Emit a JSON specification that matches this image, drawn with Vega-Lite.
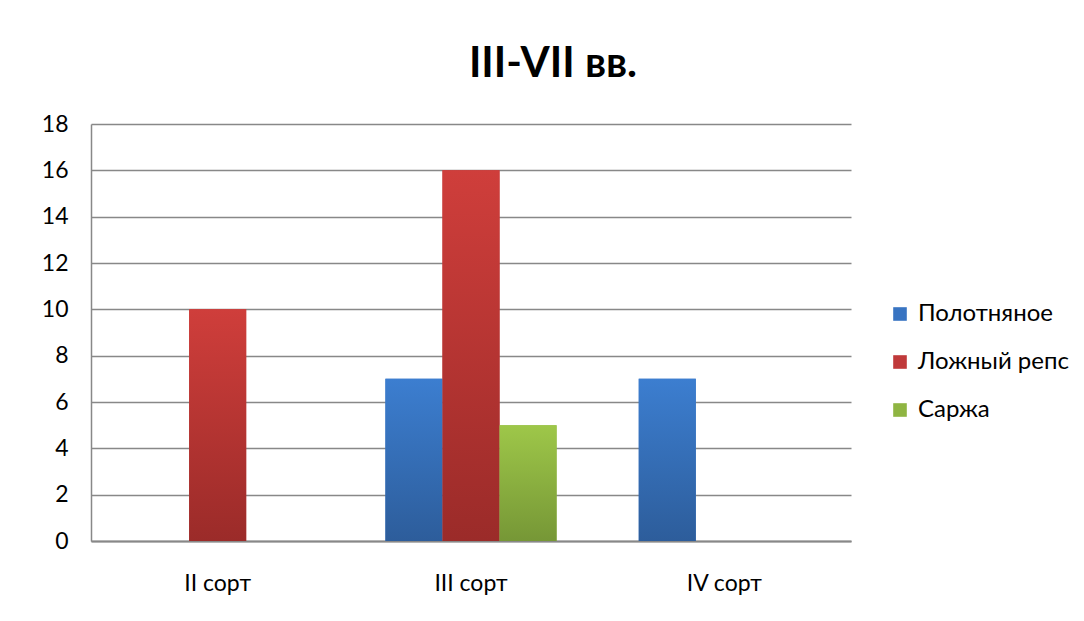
{
  "$schema": "https://vega.github.io/schema/vega-lite/v6.json",
  "width": 760,
  "height": 417,
  "autosize": {"type": "none"},
  "padding": {"left": 91, "top": 124, "right": 233, "bottom": 80},
  "background": "white",
  "title": {
    "text": "III-VII вв.",
    "font": "Lato",
    "fontSize": 42,
    "fontWeight": "bold",
    "color": "#000000",
    "anchor": "middle",
    "dx": 82,
    "offset": 27
  },
  "data": {
    "values": [
      {"sort": "II сорт", "weave": "Ложный репс", "value": 10},
      {"sort": "III сорт", "weave": "Полотняное", "value": 7},
      {"sort": "III сорт", "weave": "Ложный репс", "value": 16},
      {"sort": "III сорт", "weave": "Саржа", "value": 5},
      {"sort": "IV сорт", "weave": "Полотняное", "value": 7}
    ]
  },
  "encoding": {
    "x": {
      "field": "sort",
      "type": "nominal",
      "sort": ["II сорт", "III сорт", "IV сорт"],
      "scale": {"paddingInner": 0, "paddingOuter": 0},
      "axis": {
        "title": null,
        "labelAngle": 0,
        "labelFont": "Lato",
        "labelFontSize": 23,
        "labelColor": "#000000",
        "labelPadding": 31,
        "ticks": false,
        "domainColor": "#888888",
        "domainWidth": 2,
        "grid": false
      }
    },
    "xOffset": {
      "field": "weave",
      "type": "nominal",
      "scale": {"domain": ["Полотняное", "Ложный репс", "Саржа"], "paddingInner": 0, "paddingOuter": 0.72}
    },
    "y": {
      "field": "value",
      "type": "quantitative",
      "scale": {"domain": [0, 18]},
      "axis": {
        "title": null,
        "values": [0, 2, 4, 6, 8, 10, 12, 14, 16, 18],
        "labelFont": "Lato",
        "labelFontSize": 23,
        "labelColor": "#000000",
        "labelPadding": 23,
        "ticks": false,
        "domainColor": "#888888",
        "domainWidth": 1.5,
        "gridColor": "#888888",
        "gridWidth": 1.4
      }
    }
  },
  "layer": [
    {
      "mark": {"type": "bar"},
      "encoding": {
        "color": {
          "field": "weave",
          "type": "nominal",
          "scale": {
            "domain": ["Полотняное", "Ложный репс", "Саржа"],
            "range": ["#3874c2", "#c0393a", "#8fb542"]
          },
          "legend": {
            "title": null,
            "orient": "none",
            "legendX": 797,
            "legendY": 178,
            "symbolType": "square",
            "symbolSize": 185,
            "symbolStrokeWidth": 0,
            "labelFont": "Lato",
            "labelFontSize": 24,
            "labelColor": "#000000",
            "labelOffset": 6,
            "rowPadding": 24
          }
        }
      }
    },
    {
      "transform": [{"filter": "datum.weave === 'Полотняное'"}],
      "mark": {"type": "bar", "color": {"gradient": "linear", "x1": 0, "y1": 0, "x2": 0, "y2": 1, "stops": [{"offset": 0, "color": "#3c7ed0"}, {"offset": 1, "color": "#2d5d9b"}]}}
    },
    {
      "transform": [{"filter": "datum.weave === 'Ложный репс'"}],
      "mark": {"type": "bar", "color": {"gradient": "linear", "x1": 0, "y1": 0, "x2": 0, "y2": 1, "stops": [{"offset": 0, "color": "#cf3e3b"}, {"offset": 1, "color": "#9b2b29"}]}}
    },
    {
      "transform": [{"filter": "datum.weave === 'Саржа'"}],
      "mark": {"type": "bar", "color": {"gradient": "linear", "x1": 0, "y1": 0, "x2": 0, "y2": 1, "stops": [{"offset": 0, "color": "#9ec749"}, {"offset": 1, "color": "#769736"}]}}
    }
  ],
  "config": {
    "view": {"stroke": null}
  }
}
